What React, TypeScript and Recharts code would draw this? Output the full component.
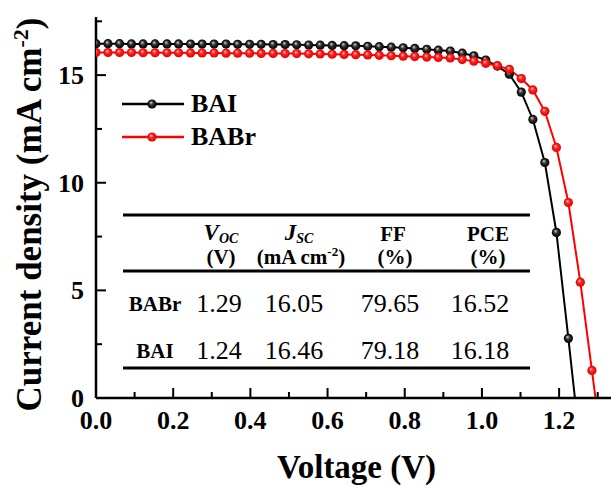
import React from 'react';
import { LineChart, Line, XAxis, YAxis, Legend } from 'recharts';

const SERIF = "'Liberation Serif', Tinos, 'Times New Roman', 'DejaVu Serif', serif";

// bias voltage sweep (V)
const voltage = [
  0, 0.031, 0.061, 0.092, 0.122, 0.153, 0.184, 0.214, 0.245, 0.275,
  0.306, 0.337, 0.367, 0.398, 0.428, 0.459, 0.49, 0.52, 0.551, 0.581,
  0.612, 0.643, 0.673, 0.704, 0.734, 0.765, 0.796, 0.826, 0.857, 0.887,
  0.918, 0.949, 0.979, 1.01, 1.04, 1.071, 1.102, 1.132, 1.163, 1.193,
  1.224, 1.255, 1.285, 1.316,
];

// current density, mA cm-2
const jBAI = [
  16.46, 16.46, 16.46, 16.45, 16.45, 16.45, 16.45, 16.45, 16.44, 16.44,
  16.44, 16.44, 16.43, 16.43, 16.43, 16.42, 16.42, 16.41, 16.4, 16.39,
  16.38, 16.37, 16.36, 16.34, 16.32, 16.3, 16.27, 16.24, 16.2, 16.16,
  16.12, 16.02, 15.9, 15.7, 15.42, 15.04, 14.21, 12.94, 10.94, 7.69,
  2.77, -2.3,
];
const jBABr = [
  16.05, 16.05, 16.05, 16.05, 16.04, 16.04, 16.04, 16.04, 16.03, 16.03,
  16.03, 16.02, 16.02, 16.02, 16.01, 16.01, 16.0, 16.0, 15.99, 15.98,
  15.97, 15.96, 15.95, 15.94, 15.92, 15.9, 15.88, 15.86, 15.84, 15.82,
  15.8, 15.72, 15.65, 15.55, 15.44, 15.27, 14.84, 14.31, 13.32, 11.64,
  9.08, 5.38, 1.28, -3.0,
];

const seriesOrder = ['BAI', 'BABr'];

const xTicks = [0, 0.1, 0.2, 0.3, 0.4, 0.5, 0.6, 0.7, 0.8, 0.9, 1.0, 1.1, 1.2, 1.3];
const xLabeled = [0, 0.2, 0.4, 0.6, 0.8, 1.0, 1.2];
const yTicks = [0, 2.5, 5, 7.5, 10, 12.5, 15, 17.5];
const yLabeled = [0, 5, 10, 15];

// photovoltaic parameters
const tableDevices = ['BABr', 'BAI'];
const tableVoc = [1.29, 1.24];
const tableJsc = [16.05, 16.46];
const tableFF = [79.65, 79.18];
const tablePCE = [16.52, 16.18];

const data = voltage.map((v, i) => ({
  v,
  bai: i < jBAI.length ? jBAI[i] : null,
  babr: i < jBABr.length ? jBABr[i] : null,
}));

const isIn = (list: number[], v: number) => list.some((t) => Math.abs(t - v) < 1e-6);

const XTick = ({ x, y, payload }: any) => {
  const major = isIn(xLabeled, payload.value);
  return (
    <g>
      <line x1={x} x2={x} y1={y} y2={y - (major ? 10 : 6)} stroke="#000" strokeWidth={2} />
      {major && (
        <text x={x} y={y + 31} textAnchor="middle" fontFamily={SERIF} fontWeight="bold" fontSize={26} fill="#000">
          {payload.value.toFixed(1)}
        </text>
      )}
    </g>
  );
};

const YTick = ({ x, y, payload }: any) => {
  const major = isIn(yLabeled, payload.value);
  return (
    <g>
      <line x1={x} x2={x + (major ? 10 : 6)} y1={y} y2={y} stroke="#000" strokeWidth={2} />
      {major && (
        <text x={x - 12} y={y + 9} textAnchor="end" fontFamily={SERIF} fontWeight="bold" fontSize={26} fill="#000">
          {payload.value}
        </text>
      )}
    </g>
  );
};

const XTitle = ({ viewBox }: any) => (
  <text
    x={viewBox.x + viewBox.width / 2}
    y={viewBox.y + 80}
    textAnchor="middle"
    fontFamily={SERIF}
    fontWeight="bold"
    fontSize={33}
    fill="#000"
  >
    Voltage (V)
  </text>
);

const YTitle = ({ viewBox }: any) => {
  const cx = 41;
  const cy = viewBox.y + viewBox.height / 2 + 7;
  return (
    <text
      x={cx}
      y={cy}
      transform={`rotate(-90 ${cx} ${cy})`}
      textAnchor="middle"
      fontFamily={SERIF}
      fontWeight="bold"
      fontSize={35}
      fill="#000"
    >
      Current density (mA cm<tspan fontSize={22} dy={-13}>-2</tspan>
      <tspan dy={13}>)</tspan>
    </text>
  );
};

const gradFor = (color: string) => (color === '#000000' ? 'ballBlack' : 'ballRed');

const makeDot = (color: string) => (p: any) => {
  const key = `${color}-${p.index}`;
  if (p.cx == null || p.cy == null) return <g key={key} />;
  return <circle key={key} cx={p.cx} cy={p.cy} r={4.6} fill={`url(#${gradFor(color)})`} stroke="none" />;
};

const LegendContent = ({ payload }: any) => {
  const items = [...(payload || [])].sort(
    (a: any, b: any) => seriesOrder.indexOf(a.value) - seriesOrder.indexOf(b.value),
  );
  return (
    <div style={{ fontFamily: SERIF, fontWeight: 'bold', fontSize: 26, color: '#000' }}>
      {items.map((p: any) => (
        <div key={p.value} style={{ display: 'flex', alignItems: 'center', height: 33 }}>
          <svg width={62} height={12} style={{ display: 'block' }}>
            <line x1={0} x2={62} y1={6} y2={6} stroke={p.color} strokeWidth={2.5} />
            <circle cx={30} cy={6} r={4.6} fill={`url(#${gradFor(p.color)})`} />
          </svg>
          <span style={{ marginLeft: 7, lineHeight: '33px' }}>{p.value}</span>
        </div>
      ))}
    </div>
  );
};

const ParamTable = () => {
  const headCols = [221, 299, 393, 488];
  const valCols = [219, 294, 390, 480];
  const rowY = [312, 359];
  const rows = tableDevices.map((d, i) => ({
    name: d,
    vals: [tableVoc[i], tableJsc[i], tableFF[i], tablePCE[i]],
  }));
  return (
    <svg width={611} height={486} style={{ position: 'absolute', left: 0, top: 0, pointerEvents: 'none' }}>
      <g stroke="#000" strokeWidth={3}>
        <line x1={123} x2={530} y1={215} y2={215} />
        <line x1={123} x2={530} y1={271} y2={271} />
        <line x1={123} x2={530} y1={368} y2={368} />
      </g>
      <g fontFamily={SERIF} fontWeight="bold" fontSize={21} textAnchor="middle" fill="#000">
        <text x={headCols[0]} y={240} fontStyle="italic">
          <tspan fontSize={23}>V</tspan>
          <tspan fontSize={14} dy={3}>OC</tspan>
        </text>
        <text x={headCols[1]} y={240} fontStyle="italic">
          <tspan fontSize={23}>J</tspan>
          <tspan fontSize={14} dy={3}>SC</tspan>
        </text>
        <text x={headCols[2]} y={241}>FF</text>
        <text x={headCols[3]} y={241}>PCE</text>
        <text x={headCols[0]} y={264}>(V)</text>
        <text x={headCols[1] + 2} y={264}>
          (mA cm<tspan fontSize={13} dy={-8}>-2</tspan>
          <tspan dy={8}>)</tspan>
        </text>
        <text x={headCols[2] + 2} y={264}>(%)</text>
        <text x={headCols[3]} y={264}>(%)</text>
      </g>
      {rows.map((r, i) => (
        <g key={r.name}>
          <text x={155} y={rowY[i] - 1} textAnchor="middle" fontFamily={SERIF} fontWeight="bold" fontSize={21} fill="#000">
            {r.name}
          </text>
          {r.vals.map((v, j) => (
            <text key={j} x={valCols[j]} y={rowY[i]} textAnchor="middle" fontFamily={SERIF} fontSize={26} fill="#000">
              {v.toFixed(2)}
            </text>
          ))}
        </g>
      ))}
    </svg>
  );
};

export default function App() {
  return (
    <div style={{ position: 'fixed', left: 0, top: 0, width: 611, height: 486, overflow: 'hidden', background: '#fff' }}>
      <svg width={0} height={0} style={{ position: 'absolute' }}>
        <defs>
          <radialGradient id="ballBlack" cx="50%" cy="50%" r="50%" fx="38%" fy="32%">
            <stop offset="0%" stopColor="#d8d8d8" />
            <stop offset="45%" stopColor="#303030" />
            <stop offset="100%" stopColor="#000" />
          </radialGradient>
          <radialGradient id="ballRed" cx="50%" cy="50%" r="50%" fx="38%" fy="32%">
            <stop offset="0%" stopColor="#ffc4c4" />
            <stop offset="45%" stopColor="#ff2020" />
            <stop offset="100%" stopColor="#e00000" />
          </radialGradient>
        </defs>
      </svg>
      <LineChart width={617} height={486} data={data} margin={{ top: 17, right: 0, bottom: 0, left: 0 }}>
        <XAxis
          dataKey="v"
          type="number"
          domain={[0, 1.35]}
          ticks={xTicks}
          interval={0}
          tickSize={0}
          tickMargin={0}
          tickLine={false}
          tick={<XTick />}
          axisLine={{ stroke: '#000', strokeWidth: 2.5 }}
          height={88}
          allowDataOverflow
          label={<XTitle />}
        />
        <XAxis
          xAxisId="top"
          orientation="top"
          dataKey="v"
          type="number"
          domain={[0, 1.35]}
          tick={false}
          tickLine={false}
          height={0}
          axisLine={{ stroke: '#000', strokeWidth: 2.5 }}
          allowDataOverflow
        />
        <YAxis
          type="number"
          domain={[0, 17.7]}
          ticks={yTicks}
          interval={0}
          tickSize={0}
          tickMargin={0}
          tickLine={false}
          tick={<YTick />}
          axisLine={{ stroke: '#000', strokeWidth: 2.5 }}
          width={96}
          allowDataOverflow
          label={<YTitle />}
        />
        <Legend
          layout="vertical"
          align="center"
          verticalAlign="middle"
          wrapperStyle={{ left: 122, top: 87, width: 'auto' }}
          content={<LegendContent />}
        />
        <Line
          name="BAI"
          dataKey="bai"
          stroke="#000000"
          strokeWidth={2}
          dot={makeDot('#000000')}
          activeDot={false}
          isAnimationActive={false}
        />
        <Line
          name="BABr"
          dataKey="babr"
          stroke="#ff0000"
          strokeWidth={2}
          dot={makeDot('#ff0000')}
          activeDot={false}
          isAnimationActive={false}
        />
      </LineChart>
      <ParamTable />
    </div>
  );
}
